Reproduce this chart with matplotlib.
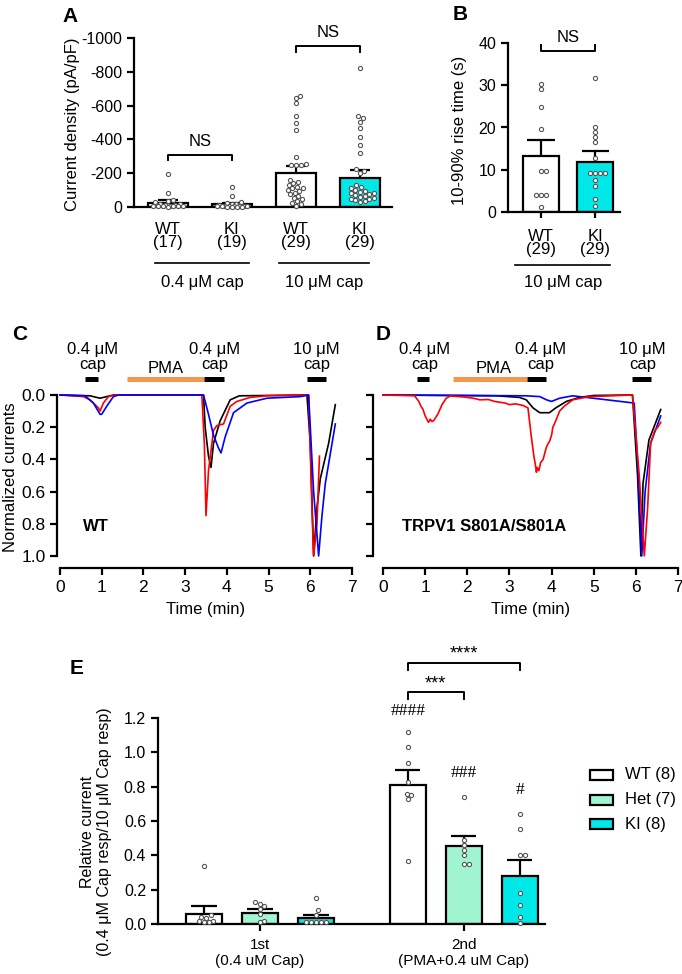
import matplotlib
matplotlib.use('Agg')
import matplotlib.pyplot as plt
from matplotlib.patches import Rectangle
from matplotlib.transforms import blended_transform_factory as btf

plt.rcParams['font.family'] = ['Liberation Sans', 'DejaVu Sans']

# ---------------- DATA ----------------
# Panel A: current density (pA/pF)
a_labels = ['WT\n(17)', 'KI\n(19)', 'WT\n(29)', 'KI\n(29)']
a_mean = [-25, -17, -203, -173]
a_sem = [15, 8, 42, 44]
a_geno = ['WT', 'KI', 'WT', 'KI']
a_pts_wt04 = [-197, -85, -42, -35, -30, -20, -15, -12, -10, -8, -6, -5, -5, -4, -3, -3, -2]
a_pts_ki04 = [-120, -68, -30, -25, -20, -15, -10, -8, -6, -5, -5, -4, -4, -3, -3, -2, -2, -2, -1]
a_pts_wt10 = [-657, -647, -617, -540, -497, -457, -294, -254, -250, -248, -246, -150, -140,
              -130, -120, -110, -115, -100, -95, -85, -75, -65, -55, -45, -35, -25, -15, -8, -160]
a_pts_ki10 = [-824, -538, -527, -503, -467, -414, -367, -320, -222, -215, -200, -130, -118,
              -110, -100, -95, -90, -85, -80, -75, -70, -65, -60, -55, -50, -45, -40, -35, -30]
a_groups = ['0.4 \u03bcM cap', '10 \u03bcM cap']

# Panel B: 10-90% rise time (s)
b_labels = ['WT\n(29)', 'KI\n(29)']
b_mean = [13.3, 11.8]
b_sem = [3.8, 2.6]
b_pts_wt = [30.4, 29.0, 24.8, 19.6, 9.7, 9.7, 4.0, 4.0, 4.0, 1.1]
b_pts_ki = [31.6, 20.2, 19.0, 17.8, 16.6, 12.7, 9.2, 9.2, 9.2, 9.2, 7.6, 6.2, 3.1, 1.5]

# Panel C traces (time in min, normalized current)
c_black_t = [0, 0.72, 0.96, 1.12, 1.28, 3.44, 3.48, 3.56, 3.62, 3.68, 3.84, 4.08, 4.3, 5.92, 6.0, 6.08, 6.16, 6.24, 6.44, 6.6]
c_black_y = [0, 0.005, 0.02, 0.01, 0, 0, 0.2, 0.38, 0.45, 0.3, 0.16, 0.03, 0.005, 0, 0.3, 1.0, 0.7, 0.52, 0.3, 0.06]
c_red_t = [0, 0.56, 0.72, 0.92, 0.96, 1.04, 1.16, 1.32, 3.4, 3.46, 3.5, 3.56, 3.68, 3.76, 3.92, 4.08, 4.24, 4.56, 4.96, 5.96, 6.04, 6.08, 6.16, 6.22]
c_red_y = [0, 0.01, 0.03, 0.08, 0.1, 0.05, 0.01, 0, 0, 0.3, 0.75, 0.47, 0.22, 0.19, 0.18, 0.07, 0.04, 0.015, 0.005, 0, 0.7, 1.0, 0.8, 0.38]
c_blue_t = [0, 0.6, 0.8, 0.96, 1.0, 1.12, 1.28, 1.4, 3.44, 3.56, 3.68, 3.8, 3.86, 3.96, 4.16, 4.48, 4.96, 5.76, 5.96, 6.08, 6.2, 6.28, 6.36, 6.6]
c_blue_y = [0, 0.005, 0.05, 0.12, 0.12, 0.07, 0.01, 0, 0, 0.12, 0.25, 0.33, 0.36, 0.26, 0.11, 0.05, 0.02, 0.01, 0, 0.6, 1.0, 0.75, 0.55, 0.18]

# Panel D traces
d_black_t = [0, 2.7, 3.24, 3.4, 3.56, 3.72, 3.95, 4.1, 4.35, 4.66, 5.0, 5.92, 6.04, 6.12, 6.17, 6.31, 6.59]
d_black_y = [0, 0.005, 0.015, 0.03, 0.08, 0.11, 0.11, 0.08, 0.04, 0.015, 0.003, 0, 0.5, 1.0, 0.55, 0.28, 0.09]
d_blue_t = [0, 3.4, 3.72, 3.88, 4.0, 4.19, 4.5, 5.96, 6.06, 6.14, 6.22, 6.35, 6.59]
d_blue_y = [0, 0.005, 0.01, 0.03, 0.04, 0.02, 0.005, 0.05, 0.5, 1.0, 0.6, 0.3, 0.13]
d_red_t = [0, 0.75, 0.85, 0.9, 0.95, 1.0, 1.04, 1.08, 1.12, 1.16, 1.2, 1.25, 1.3, 1.35, 1.4, 1.5, 1.6,
           1.9, 2.14, 2.3, 2.5, 2.65, 2.77, 2.9, 3.0, 3.15, 3.32, 3.44, 3.52,
           3.58, 3.62, 3.64, 3.66, 3.7, 3.74, 3.8, 3.84, 3.87, 3.92, 3.95, 4.0, 4.03, 4.1, 4.19, 4.3,
           4.5, 4.9, 5.92, 6.08, 6.2, 6.28, 6.35, 6.45, 6.52, 6.59]
d_red_y = [0, 0.005, 0.04, 0.07, 0.09, 0.13, 0.15, 0.17, 0.15, 0.165, 0.16, 0.14, 0.12, 0.09, 0.06, 0.02, 0.006,
           0.012, 0.02, 0.03, 0.028, 0.04, 0.045, 0.05, 0.06, 0.055, 0.065, 0.08, 0.26,
           0.38, 0.44, 0.48, 0.45, 0.47, 0.42, 0.4, 0.36, 0.33, 0.3, 0.29, 0.25, 0.2, 0.16, 0.1, 0.07,
           0.03, 0.01, 0, 0.5, 1.0, 0.7, 0.3, 0.22, 0.2, 0.17]

# application bars (start, end) in min
c_cap1 = (0.6, 0.92); c_pma = (1.6, 3.46); c_cap2 = (3.46, 3.94); c_cap10 = (5.92, 6.38)
d_cap1 = (0.8, 1.08); d_pma = (1.65, 3.42); d_cap2 = (3.42, 3.86); d_cap10 = (5.92, 6.35)

# Panel E: relative current
e_groups = ['1st\n(0.4 uM Cap)', '2nd\n(PMA+0.4 uM Cap)']
e_series = ['WT (8)', 'Het (7)', 'KI (8)']
e_mean = [[0.058, 0.064, 0.035], [0.81, 0.455, 0.28]]
e_sem = [[0.045, 0.021, 0.019], [0.085, 0.055, 0.09]]
e_pts = [[[0.34, 0.05, 0.04, 0.035, 0.02, 0.015, 0.01, 0.01],
          [0.128, 0.118, 0.105, 0.09, 0.06, 0.02, 0.01],
          [0.15, 0.08, 0.055, 0.01, 0.01, 0.01, 0.01, 0.01]],
         [[1.12, 1.03, 0.935, 0.83, 0.76, 0.75, 0.73, 0.365],
          [0.74, 0.49, 0.46, 0.43, 0.40, 0.35, 0.35],
          [0.64, 0.553, 0.40, 0.40, 0.18, 0.11, 0.04, 0.005]]]
e_hash = [['', '', ''], ['####', '###', '#']]

# ---------------- STYLE ----------------
W, H = 682, 974
fig = plt.figure(figsize=(W / 100, H / 100), dpi=100)
CYAN = '#00E8E8'
MINT = '#A0F5D0'
ORANGE = '#F5964B'
FS = 11.5
LW = 1.6


def rect(l, t, r, b):
    return [l / W, 1 - b / H, (r - l) / W, (b - t) / H]


def fy(py):
    return 1 - py / H


def style(ax):
    for s in ['top', 'right']:
        ax.spines[s].set_visible(False)
    for s in ['left', 'bottom']:
        ax.spines[s].set_linewidth(LW)
    ax.tick_params(width=LW, length=5, labelsize=FS, direction='out')


def swarm(ax, xc, vals, maxoff, dpx=4.8, zorder=5):
    tr = ax.transData
    cx = tr.transform((xc, 0))[0]
    placed = []
    res = [None] * len(vals)
    order = sorted(range(len(vals)), key=lambda i: abs(vals[i]))
    cands = [0.0]
    m = 1
    while m * 0.5 <= maxoff:
        cands += [m * 0.5, -m * 0.5]
        m += 1
    for i in order:
        yd = tr.transform((xc, vals[i]))[1]
        best, bestd = 0.0, -1
        for c in cands:
            d2 = min([(c - px) ** 2 + (yd - py) ** 2 for px, py in placed] or [1e9])
            if d2 >= dpx ** 2:
                best = c
                break
            if d2 > bestd:
                best, bestd = c, d2
        placed.append((best, yd))
        res[i] = tr.inverted().transform((cx + best, yd))[0]
    ax.scatter(res, vals, s=9, facecolor='white', edgecolor='#555555', linewidth=0.8,
               zorder=zorder, clip_on=False)


def errbar(ax, x, top, tip, capw):
    ax.plot([x, x], [top, tip], color='black', lw=LW, zorder=4, solid_capstyle='butt')
    ax.plot([x - capw / 2, x + capw / 2], [tip, tip], color='black', lw=LW, zorder=4,
            solid_capstyle='butt')


def bracket(ax, x0, x1, y, leg, text, ty, fs=FS, **kw):
    ax.plot([x0, x0, x1, x1], [y - leg, y, y, y - leg], color='black', lw=1.4,
            clip_on=False, zorder=6)
    ax.text((x0 + x1) / 2, ty, text, ha='center', va='center', fontsize=fs, **kw)


# ---------------- PANEL A ----------------
axA = fig.add_axes(rect(134, 38, 392, 207))
style(axA)
xa = list(range(len(a_mean)))
colsA = ['white' if g == 'WT' else CYAN for g in a_geno]
axA.set_xlim(-0.53, 3.5)
axA.set_ylim(0, -1000)
axA.set_yticks([0, -200, -400, -600, -800, -1000])
axA.set_yticklabels(['0', '-200', '-400', '-600', '-800', '-1000'])
axA.bar(xa, a_mean, width=0.62, color=colsA, edgecolor='black', linewidth=LW, zorder=2)
for x, m, s in zip(xa, a_mean, a_sem):
    errbar(axA, x, m, m - s, 0.3)
for x, p in zip(xa, [a_pts_wt04, a_pts_ki04, a_pts_wt10, a_pts_ki10]):
    swarm(axA, x, p, maxoff=16)
axA.set_xticks(xa)
axA.set_xticklabels(a_labels, fontsize=12, linespacing=0.85)
axA.tick_params(axis='x', length=0, pad=11)
bracket(axA, 0, 1, -305, -28, 'NS', -385, fs=12)
bracket(axA, 2, 3, -950, -30, 'NS', -1035, fs=12)
trA = btf(axA.transData, fig.transFigure)
for (x0, x1), lab in zip([(-0.2, 1.27), (1.73, 3.14)], a_groups):
    axA.plot([x0, x1], [fy(263), fy(263)], color='black', lw=1.2, transform=trA, clip_on=False)
    axA.text((x0 + x1) / 2, fy(282), lab, transform=trA, ha='center', va='center', fontsize=12)
fig.text(72 / W, fy(124), 'Current density (pA/pF)', rotation=90, ha='center', va='center', fontsize=12)
fig.text(70 / W, fy(16), 'A', fontsize=15, fontweight='bold', ha='center', va='center')

# ---------------- PANEL B ----------------
axB = fig.add_axes(rect(508, 43, 620, 212))
style(axB)
xb = [0, 1]
axB.set_xlim(-0.61, 1.46)
axB.set_ylim(0, 40)
axB.set_yticks([0, 10, 20, 30, 40])
axB.bar(xb, b_mean, width=0.67, color=['white', CYAN], edgecolor='black', linewidth=LW, zorder=2)
for x, m, s in zip(xb, b_mean, b_sem):
    errbar(axB, x, m, m + s, 0.5)
for x, p in zip(xb, [b_pts_wt, b_pts_ki]):
    swarm(axB, x, p, maxoff=14)
axB.set_xticks(xb)
axB.set_xticklabels(b_labels, fontsize=12, linespacing=0.85)
axB.tick_params(axis='x', length=4, pad=8)
bracket(axB, 0, 1, 38.2, -1.4, 'NS', 41.3, fs=12)
trB = btf(axB.transData, fig.transFigure)
axB.plot([-0.48, 1.28], [fy(265), fy(265)], color='black', lw=1.2, transform=trB, clip_on=False)
axB.text(0.4, fy(283), a_groups[1], transform=trB, ha='center', va='center', fontsize=12)
fig.text(460 / W, fy(130), '10-90% rise time (s)', rotation=90, ha='center', va='center', fontsize=12)
fig.text(460 / W, fy(15), 'B', fontsize=15, fontweight='bold', ha='center', va='center')


# ---------------- PANELS C & D ----------------
def trace_panel(ax, traces, bars, labels, title, tx, offset, show_ylabels):
    style(ax)
    ax.set_xlim(0, 7)
    ax.set_ylim(1.075, 0)
    ax.spines['left'].set_bounds(1.0, 0)
    ax.spines['left'].set_position(('outward', offset))
    ax.set_yticks([0, 0.2, 0.4, 0.6, 0.8, 1.0])
    ax.set_xticks(range(8))
    ax.tick_params(labelsize=12.5)
    if show_ylabels:
        ax.set_yticklabels(['0.0', '0.2', '0.4', '0.6', '0.8', '1.0'])
    else:
        ax.set_yticklabels([])
    for t, y, c in traces:
        ax.plot(t, y, color=c, lw=1.2, clip_on=False, zorder=3)
    cap1, pma, cap2, cap10 = bars
    yb = -0.1
    for seg, col in [(cap1, 'black'), (pma, ORANGE), (cap2, 'black'), (cap10, 'black')]:
        ax.plot(seg, [yb, yb], color=col, lw=3.6, solid_capstyle='butt', clip_on=False)
    for (xc, top, bot) in labels:
        if top:
            ax.text(xc, -0.285, top, ha='center', va='center', fontsize=12)
        ax.text(xc, -0.19 if top else -0.165, bot, ha='center', va='center', fontsize=12)
    ax.text(tx, 0.82, title, fontsize=12, fontweight='bold', ha='left', va='center')
    ax.set_xlabel('Time (min)', fontsize=12, labelpad=5)


axC = fig.add_axes(rect(60, 395, 352, 568))
trace_panel(axC, [(c_black_t, c_black_y, 'black'), (c_red_t, c_red_y, '#FF0000'),
                  (c_blue_t, c_blue_y, '#0000FF')],
            [c_cap1, c_pma, c_cap2, c_cap10],
            [(sum(c_cap1) / 2 + 0.02, '0.4 \u03bcM', 'cap'), (sum(c_pma) / 2, '', 'PMA'),
             (sum(c_cap2) / 2, '0.4 \u03bcM', 'cap'), (sum(c_cap10) / 2, '10 \u03bcM', 'cap')],
            'WT', 0.55, 2, True)
fig.text(11 / W, fy(477), 'Normalized currents', rotation=90, ha='center', va='center', fontsize=12)
fig.text(20 / W, fy(335), 'C', fontsize=15, fontweight='bold', ha='center', va='center')

axD = fig.add_axes(rect(383, 395, 678, 568))
trace_panel(axD, [(d_black_t, d_black_y, 'black'), (d_blue_t, d_blue_y, '#0000FF'),
                  (d_red_t, d_red_y, '#FF0000')],
            [d_cap1, d_pma, d_cap2, d_cap10],
            [(sum(d_cap1) / 2 + 0.04, '0.4 \u03bcM', 'cap'), (sum(d_pma) / 2 + 0.1, '', 'PMA'),
             (sum(d_cap2) / 2 + 0.1, '0.4 \u03bcM', 'cap'), (sum(d_cap10) / 2 + 0.02, '10 \u03bcM', 'cap')],
            'TRPV1 S801A/S801A', 0.45, 7, False)
fig.text(383 / W, fy(335), 'D', fontsize=15, fontweight='bold', ha='center', va='center')

# ---------------- PANEL E ----------------
axE = fig.add_axes(rect(158, 718, 545, 924))
style(axE)
gx = [0, 3.64]
ecols = ['white', MINT, CYAN]
axE.set_xlim(-0.82, 6.09)
axE.set_ylim(0, 1.2)
axE.set_yticks([0, 0.2, 0.4, 0.6, 0.8, 1.0, 1.2])
axE.set_yticklabels(['0.0', '0.2', '0.4', '0.6', '0.8', '1.0', '1.2'])
for g in range(2):
    for i in range(3):
        x = gx[g] + i
        m, s = e_mean[g][i], e_sem[g][i]
        axE.bar(x, m, width=0.64, color=ecols[i], edgecolor='black', linewidth=LW, zorder=2)
        errbar(axE, x, m, m + s, 0.45)
        swarm(axE, x, e_pts[g][i], maxoff=14)
        if e_hash[g][i]:
            yh = {0: 1.24, 1: 0.88, 2: 0.78}[i]
            axE.text(x, yh, e_hash[g][i], ha='center', va='center', fontsize=12.5,
                     family=['Liberation Serif', 'DejaVu Serif'])
axE.set_xticks([g + 1 for g in gx])
axE.set_xticklabels(e_groups, fontsize=11)
axE.tick_params(axis='x', length=5, pad=5)
bracket(axE, gx[1], gx[1] + 1, 1.35, 0.04, '***', 1.40, fs=13)
bracket(axE, gx[1], gx[1] + 2, 1.52, 0.04, '****', 1.575, fs=13)
fig.text(96 / W, fy(832), 'Relative current\n(0.4 \u03bcM Cap resp/10 \u03bcM Cap resp)', rotation=90,
         ha='center', va='center', fontsize=11.5, multialignment='center')
fig.text(77 / W, fy(668), 'E', fontsize=15, fontweight='bold', ha='center', va='center')

# legend
for i, (lab, col) in enumerate(zip(e_series, ecols)):
    yc = 775 + 24.5 * i
    fig.add_artist(Rectangle((590 / W, fy(yc + 5)), 23 / W, 10 / H, facecolor=col,
                             edgecolor='black', linewidth=1.6, transform=fig.transFigure))
    fig.text(625 / W, fy(yc), lab, fontsize=12, ha='left', va='center')

fig.savefig('out.png', dpi=100)
